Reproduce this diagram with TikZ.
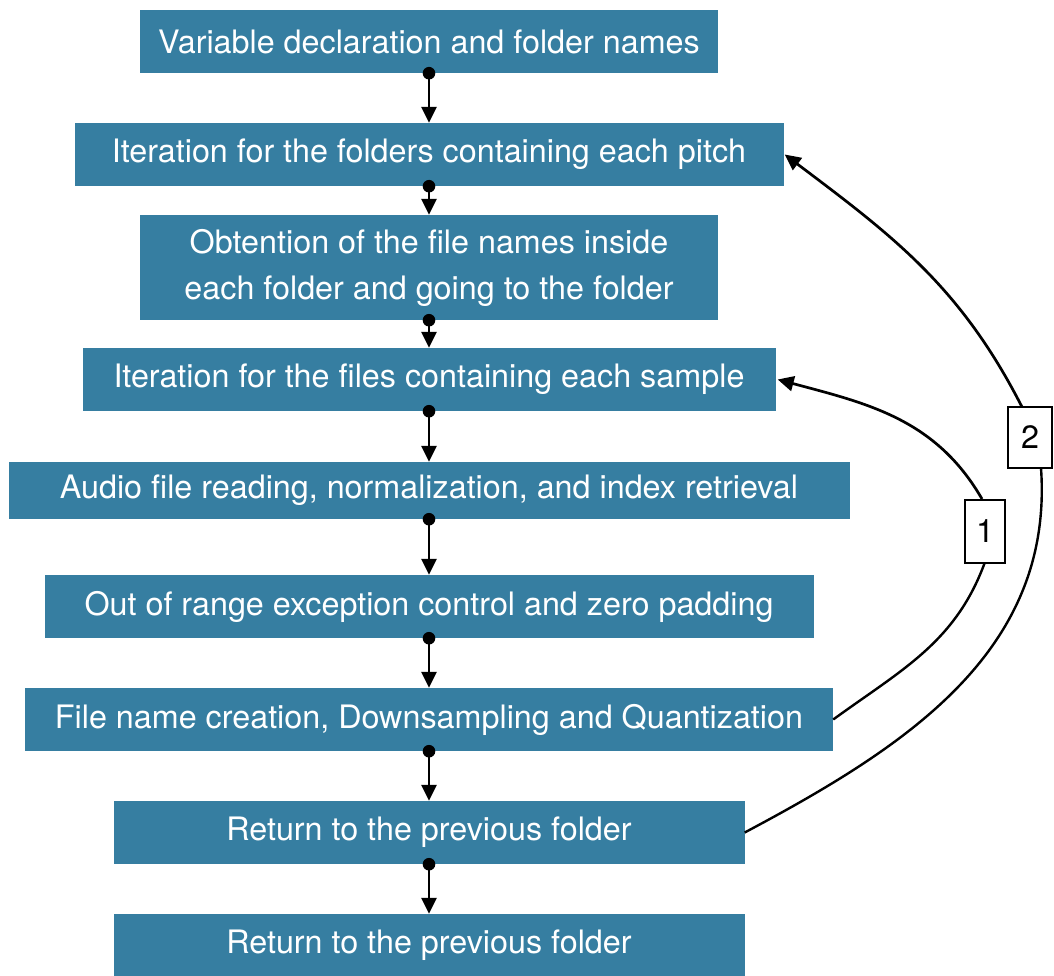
\documentclass[tikz,border=0pt]{standalone}
\usepackage{fontspec}
\setmainfont{TeX Gyre Heros}
\usetikzlibrary{arrows.meta}
\definecolor{boxblue}{RGB}{54,126,161}
\tikzset{
  stepbox/.style={rectangle, fill=boxblue, text=white, inner sep=0pt, align=center,
    font=\fontsize{32.3}{46}\selectfont},
  flow/.style={line width=2.7pt, -{Triangle[length=16pt,width=15pt]}},
  loop/.style={line width=2.4pt},
  lbl/.style={rectangle, draw=black, fill=white, line width=2.4pt, inner sep=0pt,
    font=\fontsize{32.3}{36}\selectfont},
  dot/.style={fill=black}
}
\begin{document}
\begin{tikzpicture}[x=1pt,y=-1pt]
\useasboundingbox (0,0) rectangle (1054,976);
\node[stepbox, minimum width=578pt, minimum height=63pt] (b1) at (429,41.5) {Variable declaration and folder names};
\node[stepbox, minimum width=709pt, minimum height=63pt] (b2) at (429,154.5) {Iteration for the folders containing each pitch};
\node[stepbox, minimum width=578pt, minimum height=105pt] (b3) at (429,267.5) {Obtention of the file names inside\\each folder and going to the folder};
\node[stepbox, minimum width=693pt, minimum height=63pt] (b4) at (429,379.5) {Iteration for the files containing each sample};
\node[stepbox, minimum width=841pt, minimum height=57pt] (b5) at (429,490.5) {Audio file reading, normalization, and index retrieval};
\node[stepbox, minimum width=769pt, minimum height=63pt] (b6) at (429,606.5) {Out of range exception control and zero padding};
\node[stepbox, minimum width=808pt, minimum height=63pt] (b7) at (429,719.5) {File name creation, Downsampling and Quantization};
\node[stepbox, minimum width=631pt, minimum height=63pt] (b8) at (429,832.5) {Return to the previous folder};
\node[stepbox, minimum width=631pt, minimum height=62pt] (b9) at (429,945) {Return to the previous folder};

\foreach \a/\b in {b1/b2,b2/b3,b3/b4,b4/b5,b5/b6,b6/b7,b7/b8,b8/b9}{
  \draw[flow] (\a.south) -- (\b.north);
  \fill[dot] (\a.south) circle (6.3pt);
}

\coordinate (c1a) at (985,562);
\coordinate (c1b) at (982,499);
\coordinate (c2a) at (1041,468);
\coordinate (c2b) at (1022,407);

\draw[loop] (b7.east) to[out=36,in=-110] (c1a) -- (c1b);
\draw[flow] (c1b) to[out=120,in=-15] ([xshift=2pt]b4.east);
\draw[loop] (b8.east) to[out=28,in=-86] (c2a) -- (c2b);
\draw[flow] (c2b) to[out=117,in=-37] ([xshift=1pt]b2.east);

\node[lbl, minimum width=40pt, minimum height=63pt] (l1) at (985,531.5) {1};
\node[lbl, minimum width=44pt, minimum height=61pt] (l2) at (1030,437.5) {2};
\end{tikzpicture}
\end{document}
